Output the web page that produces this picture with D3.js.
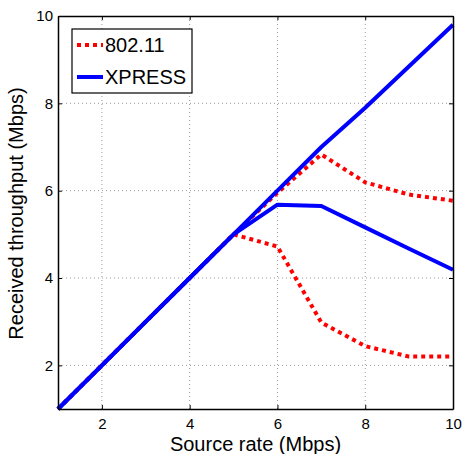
<!DOCTYPE html>
<html>
<head>
<meta charset="utf-8">
<script src="https://cdn.jsdelivr.net/npm/d3@7"></script>
<style>
  body { margin: 0; background: #fff; }
  text { font-family: "Liberation Sans", Arial, sans-serif; fill: #000; }
</style>
</head>
<body>
<svg id="chart" width="465" height="454"></svg>
<script>
// data
const sourceRate   = [1, 2, 3, 4, 5, 6, 7, 8, 9, 10];
const wifiUpper    = [1, 2, 3, 4, 5, 5.95, 6.83, 6.19, 5.91, 5.77];
const wifiLower    = [1, 2, 3, 4, 5, 4.72, 2.98, 2.44, 2.2, 2.2];
const xpressUpper  = [1, 2, 3, 4, 5, 6, 7, 7.9, 8.85, 9.8];
const xpressLower  = [1, 2, 3, 4, 5, 5.68, 5.65, 5.16, 4.67, 4.19];
const xTicks = [2, 4, 6, 8, 10];
const yTicks = [2, 4, 6, 8, 10];

const svg = d3.select("#chart"),
      margin = {top: 16, right: 12, bottom: 45, left: 58},
      width  = 465 - margin.left - margin.right,
      height = 454 - margin.top - margin.bottom,
      x = d3.scaleLinear().domain([1, 10]).range([0, width]),
      y = d3.scaleLinear().domain([1, 10]).range([height, 0]),
      g = svg.append("g").attr("transform", `translate(${margin.left},${margin.top})`);

// dotted grid
g.append("g").selectAll("line").data(xTicks.slice(0, -1)).enter().append("line")
  .attr("x1", d => x(d)).attr("x2", d => x(d)).attr("y1", 0).attr("y2", height)
  .attr("stroke", "#999").attr("stroke-width", 1).attr("stroke-dasharray", "1,3");
g.append("g").selectAll("line").data(yTicks.slice(0, -1)).enter().append("line")
  .attr("y1", d => y(d)).attr("y2", d => y(d)).attr("x1", 0).attr("x2", width)
  .attr("stroke", "#999").attr("stroke-width", 1).attr("stroke-dasharray", "1,3");

const line = d3.line().x((d, i) => x(sourceRate[i])).y(d => y(d));

function drawSeries(vals, color, dash) {
  g.append("path").datum(vals)
    .attr("d", line)
    .attr("fill", "none")
    .attr("stroke", color)
    .attr("stroke-width", 4)
    .attr("stroke-linejoin", "round")
    .attr("stroke-dasharray", dash);
}
drawSeries(wifiUpper, "#ff0000", "4,4");
drawSeries(wifiLower, "#ff0000", "4,4");
drawSeries(xpressUpper, "#0000ff", null);
drawSeries(xpressLower, "#0000ff", null);

// axes, ticks inward, mirrored
function styleAxis(sel) {
  sel.selectAll(".domain").attr("stroke", "#000").attr("stroke-width", 1.5);
  sel.selectAll(".tick line").attr("stroke", "#000");
  sel.selectAll(".tick text").style("font-size", "15px");
}
g.append("g").attr("transform", `translate(0,${height})`)
  .call(d3.axisBottom(x).tickValues(xTicks).tickSizeInner(-4).tickSizeOuter(0).tickPadding(9))
  .call(styleAxis);
g.append("g")
  .call(d3.axisTop(x).tickValues(xTicks).tickSizeInner(-4).tickSizeOuter(0).tickFormat(""))
  .call(styleAxis);
g.append("g")
  .call(d3.axisLeft(y).tickValues(yTicks).tickSizeInner(-4).tickSizeOuter(0).tickPadding(5))
  .call(styleAxis);
g.append("g").attr("transform", `translate(${width},0)`)
  .call(d3.axisRight(y).tickValues(yTicks).tickSizeInner(-4).tickSizeOuter(0).tickFormat(""))
  .call(styleAxis);

// axis titles
svg.append("text")
  .attr("x", margin.left + width / 2).attr("y", 451)
  .attr("text-anchor", "middle").style("font-size", "20px")
  .text("Source rate (Mbps)");
svg.append("text")
  .attr("transform", `translate(23,${margin.top + height / 2 + 1}) rotate(-90)`)
  .attr("text-anchor", "middle").style("font-size", "20px")
  .text("Received throughput (Mbps)");

// legend
const legend = svg.append("g").attr("transform", "translate(72,29)");
legend.append("rect").attr("width", 120).attr("height", 64)
  .attr("fill", "#fff").attr("stroke", "#000").attr("stroke-width", 1.2);
const items = [
  {label: "802.11", color: "#ff0000", dash: "4,4", y: 16},
  {label: "XPRESS", color: "#0000ff", dash: null, y: 48}
];
items.forEach(it => {
  legend.append("line").attr("x1", 5).attr("x2", 31).attr("y1", it.y).attr("y2", it.y)
    .attr("stroke", it.color).attr("stroke-width", 4).attr("stroke-dasharray", it.dash);
  legend.append("text").attr("x", 33).attr("y", it.y + 7)
    .style("font-size", "20px").text(it.label);
});
</script>
</body>
</html>
